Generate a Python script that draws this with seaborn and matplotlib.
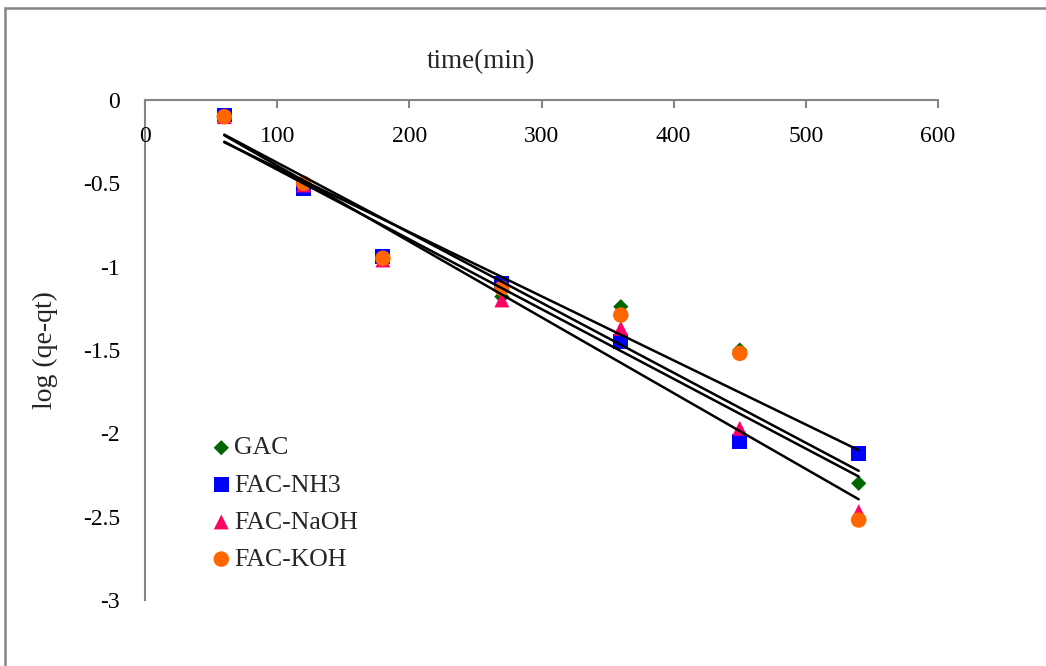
import numpy as np
import pandas as pd
import matplotlib
matplotlib.use("Agg")
import matplotlib.pyplot as plt
import seaborn as sns
from matplotlib.patches import Rectangle

# Pseudo-first-order kinetics: log(qe - qt) against contact time
time_min = [60, 120, 180, 270, 360, 450, 540]
gac = [-0.10, -0.51, -0.95, -1.18, -1.24, -1.50, -2.30]
fac_nh3 = [-0.09, -0.53, -0.94, -1.10, -1.45, -2.05, -2.12]
fac_naoh = [-0.10, -0.51, -0.96, -1.20, -1.37, -1.97, -2.47]
fac_koh = [-0.10, -0.50, -0.95, -1.13, -1.29, -1.52, -2.52]

series_names = ["GAC", "FAC-NH3", "FAC-NaOH", "FAC-KOH"]
series_values = [gac, fac_nh3, fac_naoh, fac_koh]
x_ticks = [0, 100, 200, 300, 400, 500, 600]
y_ticks = [0, -0.5, -1, -1.5, -2, -2.5, -3]

colors = ["#006600", "#0000FF", "#FF0066", "#FF6600"]
markers = ["D", "s", "^", "o"]
sizes = [60, 115, 115, 125]

df = pd.DataFrame({
    "time": time_min * len(series_names),
    "value": [v for vals in series_values for v in vals],
    "series": [n for n in series_names for _ in time_min],
})

sns.set_theme(style="white")
plt.rcParams["font.family"] = ["Liberation Serif", "DejaVu Serif"]

fig = plt.figure(figsize=(10.46, 6.66), dpi=100)
ax = fig.add_axes([145 / 1046, 1 - 600 / 666, (938 - 145) / 1046, 500 / 666])

for name, col, mk, sz in zip(series_names, colors, markers, sizes):
    sub = df[df["series"] == name]
    sns.scatterplot(data=sub, x="time", y="value", ax=ax, color=col, marker=mk,
                    s=sz, edgecolor="none", label=name, zorder=3, legend=False)

# Linear trend line for each series
for name in series_names:
    sub = df[df["series"] == name]
    sns.regplot(data=sub, x="time", y="value", ax=ax, scatter=False, ci=None,
                truncate=True, color="black", line_kws={"linewidth": 1.8, "zorder": 4})

ax.set_xlim(0, 600)
ax.set_ylim(-3, 0)
ax.set_xticks(x_ticks)
ax.set_yticks(y_ticks)
ax.set_xticklabels([str(t) for t in x_ticks])
ax.set_yticklabels([f"{t:g}" for t in y_ticks])

gray = "#868686"
for side in ["right", "bottom"]:
    ax.spines[side].set_visible(False)
for side in ["top", "left"]:
    ax.spines[side].set_color(gray)
    ax.spines[side].set_linewidth(1.5)

ax.xaxis.set_ticks_position("top")
ax.tick_params(axis="x", which="both", direction="in", length=6, width=1.5,
               color=gray, labeltop=False, labelbottom=False)
ax.tick_params(axis="y", direction="out", length=6, width=1.5, color=gray,
               labelsize=17, pad=12, labelcolor="black")

# x tick labels sit just below the zero line
for t in x_ticks:
    ax.text(t, -0.22, str(t), ha="center", va="center", fontsize=17, color="black")

ax.set_xlabel("")
ax.set_ylabel("")
fig.text(481 / 1046, 1 - 62 / 666, "time(min)", ha="center", va="center", fontsize=19.5)
fig.text(45 / 1046, 1 - 350 / 666, "log (qe-qt)", ha="center", va="center",
         fontsize=20, rotation=90)

handles, labels = ax.get_legend_handles_labels()
ax.legend(handles, labels, loc="upper left", bbox_to_anchor=(0.08, 0.327),
          frameon=False, fontsize=18.5, handletextpad=0.0, handlelength=1.0,
          labelspacing=0.55, borderaxespad=0, borderpad=0)

# Outer frame of the chart area
fig.patches.append(Rectangle((5 / 1046, -0.1), 1.2, 1 - 8 / 666 + 0.1,
                             transform=fig.transFigure, fill=False,
                             edgecolor=gray, linewidth=1.8))

fig.savefig("out.png", dpi=100, facecolor="white")
